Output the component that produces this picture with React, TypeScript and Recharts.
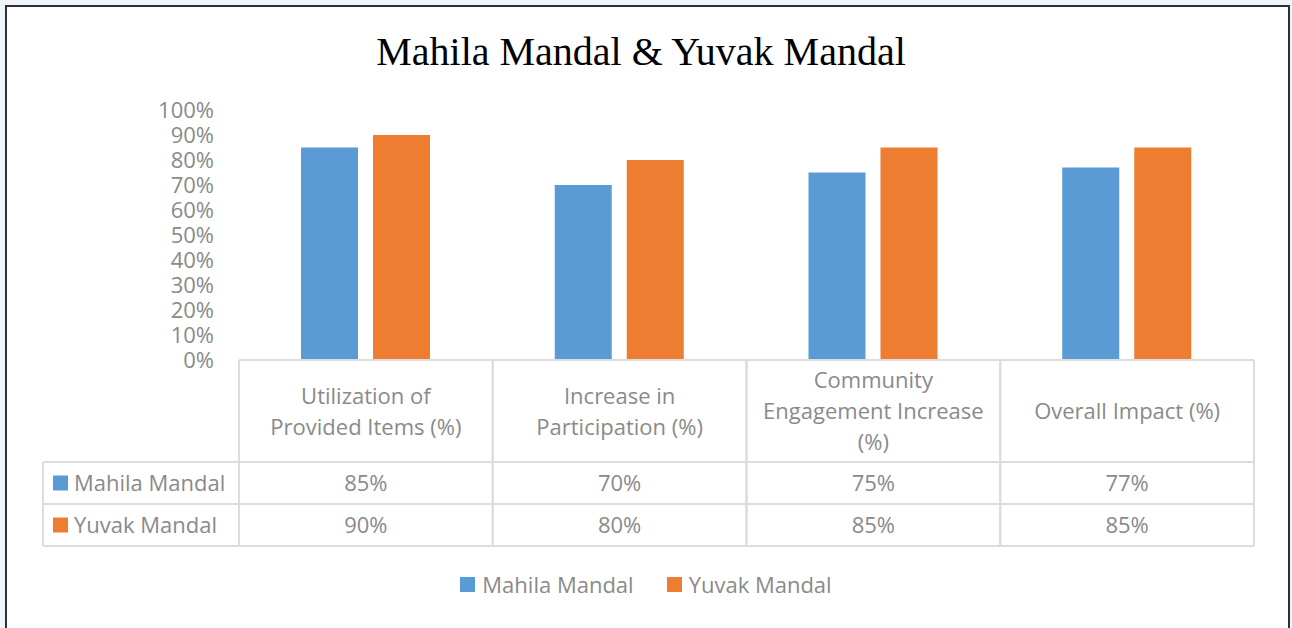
import React from "react";
import { BarChart, Bar, XAxis, YAxis } from "recharts";

const categoryKeys = ["util", "part", "comm", "overall"];
const categoryLines = [
  ["Utilization of", "Provided Items (%)"],
  ["Increase in", "Participation (%)"],
  ["Community", "Engagement Increase", "(%)"],
  ["Overall Impact (%)"],
];
const mahilaValues = [0.85, 0.7, 0.75, 0.77];
const yuvakValues = [0.9, 0.8, 0.85, 0.85];
const yTicks = [0, 0.1, 0.2, 0.3, 0.4, 0.5, 0.6, 0.7, 0.8, 0.9, 1];
const seriesNames = ["Mahila Mandal", "Yuvak Mandal"];
const seriesColors = ["#5b9bd5", "#ed7d31"];

const data = categoryKeys.map((k, i) => ({
  key: k,
  mahila: mahilaValues[i],
  yuvak: yuvakValues[i],
}));

const W = 1292;
const H = 628;
const PLOT_LEFT = 239;
const PLOT_RIGHT = 1254;
const PLOT_TOP = 110;
const PLOT_BOTTOM = 360;
const HEADER_BOTTOM = 462;
const ROW1_BOTTOM = 504;
const ROW2_BOTTOM = 546;
const TABLE_LEFT = 43;
const GRID = "#dcdcdc";
const TEXT = "#8a8a8a";
const FONT = "'Open Sans', sans-serif";
const FS = 22;
const Y_AXIS_W = 60;
const X_AXIS_H = 186;

const pct = (v: number) => `${Math.round(v * 100)}%`;
const colW = (PLOT_RIGHT - PLOT_LEFT) / categoryKeys.length;

function TableColumnTick(props: any) {
  const { x, payload } = props;
  const i = payload.index;
  const left = x - colW / 2;
  const right = x + colW / 2;
  const lines = categoryLines[i];
  const headerMid = (PLOT_BOTTOM + HEADER_BOTTOM) / 2;
  return (
    <g>
      <line x1={left} x2={right} y1={PLOT_BOTTOM} y2={PLOT_BOTTOM} stroke={GRID} strokeWidth={2} />
      <line x1={left} x2={right} y1={HEADER_BOTTOM} y2={HEADER_BOTTOM} stroke={GRID} strokeWidth={2} />
      <line x1={left} x2={right} y1={ROW1_BOTTOM} y2={ROW1_BOTTOM} stroke={GRID} strokeWidth={2} />
      <line x1={left} x2={right} y1={ROW2_BOTTOM} y2={ROW2_BOTTOM} stroke={GRID} strokeWidth={2} />
      <line x1={left} x2={left} y1={PLOT_BOTTOM} y2={ROW2_BOTTOM} stroke={GRID} strokeWidth={2} />
      <line x1={right} x2={right} y1={PLOT_BOTTOM} y2={ROW2_BOTTOM} stroke={GRID} strokeWidth={2} />
      {lines.map((ln, j) => (
        <text
          key={j}
          x={x}
          y={headerMid + (j - (lines.length - 1) / 2) * 31 + 8}
          textAnchor="middle"
          fontFamily={FONT}
          fontSize={FS}
          fill={TEXT}
        >
          {ln}
        </text>
      ))}
      <text x={x} y={(HEADER_BOTTOM + ROW1_BOTTOM) / 2 + 8} textAnchor="middle" fontFamily={FONT} fontSize={FS} fill={TEXT}>
        {pct(mahilaValues[i])}
      </text>
      <text x={x} y={(ROW1_BOTTOM + ROW2_BOTTOM) / 2 + 8} textAnchor="middle" fontFamily={FONT} fontSize={FS} fill={TEXT}>
        {pct(yuvakValues[i])}
      </text>
    </g>
  );
}

function RowHeaders() {
  const rows = [
    { top: HEADER_BOTTOM, bottom: ROW1_BOTTOM },
    { top: ROW1_BOTTOM, bottom: ROW2_BOTTOM },
  ];
  return (
    <g>
      <line x1={TABLE_LEFT} x2={PLOT_LEFT} y1={HEADER_BOTTOM} y2={HEADER_BOTTOM} stroke={GRID} strokeWidth={2} />
      <line x1={TABLE_LEFT} x2={PLOT_LEFT} y1={ROW1_BOTTOM} y2={ROW1_BOTTOM} stroke={GRID} strokeWidth={2} />
      <line x1={TABLE_LEFT} x2={PLOT_LEFT} y1={ROW2_BOTTOM} y2={ROW2_BOTTOM} stroke={GRID} strokeWidth={2} />
      <line x1={TABLE_LEFT} x2={TABLE_LEFT} y1={HEADER_BOTTOM} y2={ROW2_BOTTOM} stroke={GRID} strokeWidth={2} />
      {rows.map((r, i) => {
        const mid = (r.top + r.bottom) / 2;
        return (
          <g key={i}>
            <rect x={53} y={mid - 7.5} width={15} height={15} fill={seriesColors[i]} />
            <text x={74} y={mid + 8} fontFamily={FONT} fontSize={FS} fill={TEXT}>
              {seriesNames[i]}
            </text>
          </g>
        );
      })}
    </g>
  );
}

function ChartLegend() {
  return (
    <div
      style={{
        position: "absolute",
        left: 0,
        top: 569,
        width: W,
        display: "flex",
        justifyContent: "center",
        gap: 33,
        fontFamily: FONT,
        fontSize: FS,
        color: TEXT,
        lineHeight: "30px",
      }}
    >
      {seriesNames.map((n, i) => (
        <div key={n} style={{ display: "flex", alignItems: "center" }}>
          <span style={{ display: "inline-block", width: 15, height: 15, background: seriesColors[i], marginRight: 7 }} />
          <span>{n}</span>
        </div>
      ))}
    </div>
  );
}

export default function App() {
  return (
    <div style={{ position: "absolute", left: 0, top: 0, width: W, height: H, background: "#eef6fa", overflow: "hidden" }}>
      <div
        style={{
          position: "absolute",
          left: 5,
          top: 5,
          width: 1285,
          height: 700,
          boxSizing: "border-box",
          border: "2.5px solid #2f2f2f",
          background: "#ffffff",
        }}
      />
      <div style={{ position: "absolute", left: 0, top: 0 }}>
        <BarChart
          width={W}
          height={H}
          data={data}
          margin={{ top: PLOT_TOP, right: W - PLOT_RIGHT, left: PLOT_LEFT - Y_AXIS_W, bottom: H - PLOT_BOTTOM - X_AXIS_H }}
          barSize={57}
          barGap={15}
        >
          <text x={641} y={65} textAnchor="middle" fontFamily="'Liberation Serif', 'Times New Roman', serif" fontSize={40} fill="#000">
            Mahila Mandal &amp; Yuvak Mandal
          </text>
          <YAxis
            type="number"
            domain={[0, 1]}
            ticks={yTicks}
            tickFormatter={pct}
            axisLine={false}
            tickLine={false}
            tickSize={6}
            tickMargin={19}
            width={Y_AXIS_W}
            interval={0}
            tick={{ fontFamily: FONT, fontSize: FS, fill: TEXT }}
          />
          <XAxis
            dataKey="key"
            axisLine={false}
            tickLine={false}
            tickSize={0}
            tickMargin={0}
            height={X_AXIS_H}
            interval={0}
            tick={<TableColumnTick />}
          />
          <Bar dataKey="mahila" name={seriesNames[0]} fill={seriesColors[0]} isAnimationActive={false} />
          <Bar dataKey="yuvak" name={seriesNames[1]} fill={seriesColors[1]} isAnimationActive={false} />
          <RowHeaders />
        </BarChart>
      </div>
      <ChartLegend />
    </div>
  );
}
